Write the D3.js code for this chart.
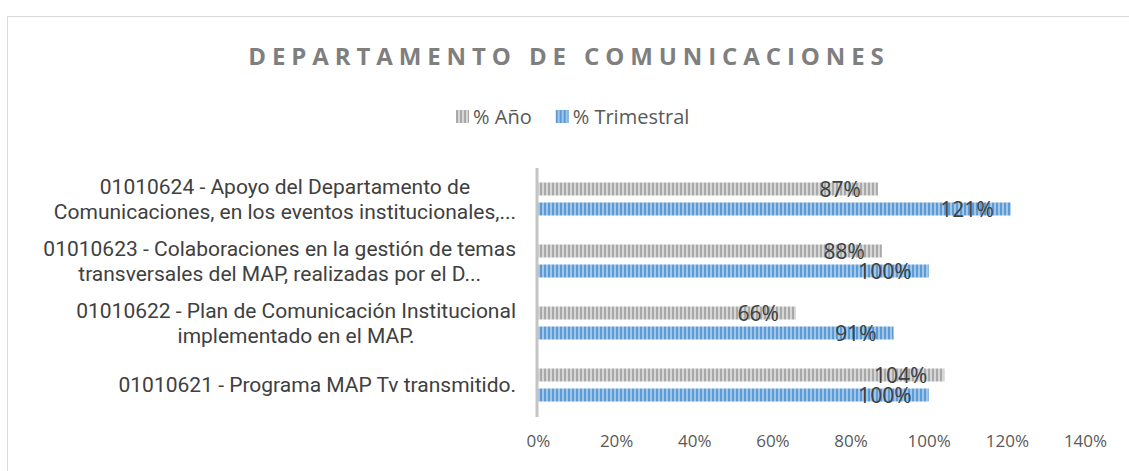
<!DOCTYPE html>
<html>
<head>
<meta charset="utf-8">
<script src="https://cdn.jsdelivr.net/npm/d3@7"></script>
<style>
  body { margin: 0; background: #fff; }
  text { font-family: "Open Sans", sans-serif; }
</style>
</head>
<body>
<script>
var categories = [
  ["01010624 - Apoyo del Departamento de", "Comunicaciones, en los eventos institucionales,..."],
  ["01010623 - Colaboraciones en la gestión de temas", "transversales del MAP, realizadas por el D..."],
  ["01010622 - Plan de Comunicación Institucional", "implementado en el MAP."],
  ["01010621 - Programa MAP Tv transmitido."]
];
var seriesNames = ["% Año", "% Trimestral"];
var anio = [0.87, 0.88, 0.66, 1.04];
var trimestral = [1.21, 1.00, 0.91, 1.00];
var ticks = [0, 0.2, 0.4, 0.6, 0.8, 1.0, 1.2, 1.4];

var width = 1129, height = 471;
var margin = {left: 538, right: 44, top: 168, bottom: 55};

var svg = d3.select("body").append("svg").attr("width", width).attr("height", height);

var defs = svg.append("defs");
function stripes(id, light, dark){
  var p = defs.append("pattern").attr("id", id)
    .attr("patternUnits", "userSpaceOnUse").attr("width", 4).attr("height", 4);
  p.append("rect").attr("width", 4).attr("height", 4).attr("fill", light);
  p.append("rect").attr("width", 2).attr("height", 4).attr("fill", dark);
}
stripes("patGray", "#d6d6d6", "#a9a9a9");
stripes("patBlue", "#a2c6e8", "#5b9bd5");
var fills = ["url(#patGray)", "url(#patBlue)"];

// chart border
svg.append("rect")
  .attr("x", 7.5).attr("y", 16.5)
  .attr("width", width + 20).attr("height", height + 20)
  .attr("fill", "none").attr("stroke", "#d9d9d9").attr("stroke-width", 1);

// title
svg.append("text")
  .attr("x", 569).attr("y", 65)
  .attr("text-anchor", "middle")
  .attr("fill", "#7f7f7f")
  .style("font-size", "24px").style("font-weight", "bold").style("letter-spacing", "5.9px")
  .text("DEPARTAMENTO DE COMUNICACIONES");

// legend
var legend = svg.append("g").attr("transform", "translate(456,110)");
var lx = 0;
seriesNames.forEach(function(n, i){
  var g = legend.append("g").attr("transform", "translate(" + lx + ",0)");
  g.append("rect").attr("x", 0).attr("y", 0).attr("width", 13).attr("height", 13).attr("fill", fills[i]);
  var t = g.append("text").attr("x", 17).attr("y", 14)
    .attr("fill", "#595959").style("font-size", "20px").text(n);
  lx += 17 + t.node().getComputedTextLength() + 24;
});

var x = d3.scaleLinear().domain([0, 1.4]).range([margin.left, width - margin.right]);
var y = d3.scaleBand().domain(d3.range(categories.length))
  .range([margin.top, height - margin.bottom]);

var chartGroup = svg.append("g");

// x axis tick labels (no line)
var xAxis = chartGroup.append("g")
  .attr("transform", "translate(0," + (height - margin.bottom + 16) + ")")
  .call(d3.axisBottom(x).tickValues(ticks).tickFormat(d3.format(".0%")).tickSize(0));
xAxis.select(".domain").remove();
xAxis.selectAll("text").attr("fill", "#595959").style("font-size", "17px")
  .style("font-family", "'Open Sans', sans-serif");

// bars
var barH = 13, gap = 7;
var series = [anio, trimestral];
series.forEach(function(vals, s){
  var off = s === 0 ? -gap / 2 - barH : gap / 2;
  chartGroup.append("g").selectAll("rect")
    .data(vals).enter().append("rect")
      .attr("x", x(0))
      .attr("y", function(d, i){ return y(i) + y.bandwidth() / 2 + off; })
      .attr("width", function(d){ return x(d) - x(0); })
      .attr("height", barH)
      .attr("fill", fills[s]);
  chartGroup.append("g").selectAll("text")
    .data(vals).enter().append("text")
      .attr("x", function(d){ return x(d) - 17; })
      .attr("y", function(d, i){ return y(i) + y.bandwidth() / 2 + off + barH + 1.5; })
      .attr("text-anchor", "end")
      .attr("fill", "#404040")
      .style("font-size", "21px")
      .text(function(d){ return Math.round(d * 100) + "%"; });
});

// vertical axis line
chartGroup.append("line")
  .attr("x1", x(0) - 1).attr("x2", x(0) - 1)
  .attr("y1", margin.top).attr("y2", height - margin.bottom + 1)
  .attr("stroke", "#c4c4c4").attr("stroke-width", 3);

// category labels: block right aligned, lines centered within block
var lineH = 25;
categories.forEach(function(lines, i){
  var t = chartGroup.append("text").attr("fill", "#404040")
    .style("font-family", "Roboto, sans-serif").style("font-size", "21px")
    .attr("text-anchor", "middle");
  var spans = lines.map(function(l, j){
    return t.append("tspan").attr("y", y(i) + y.bandwidth() / 2 + (j - (lines.length - 1) / 2) * lineH + 7).text(l);
  });
  var maxW = d3.max(spans, function(s){ return s.node().getComputedTextLength(); });
  var cx = 516 - maxW / 2;
  spans.forEach(function(s){ s.attr("x", cx); });
});
</script>
</body>
</html>
